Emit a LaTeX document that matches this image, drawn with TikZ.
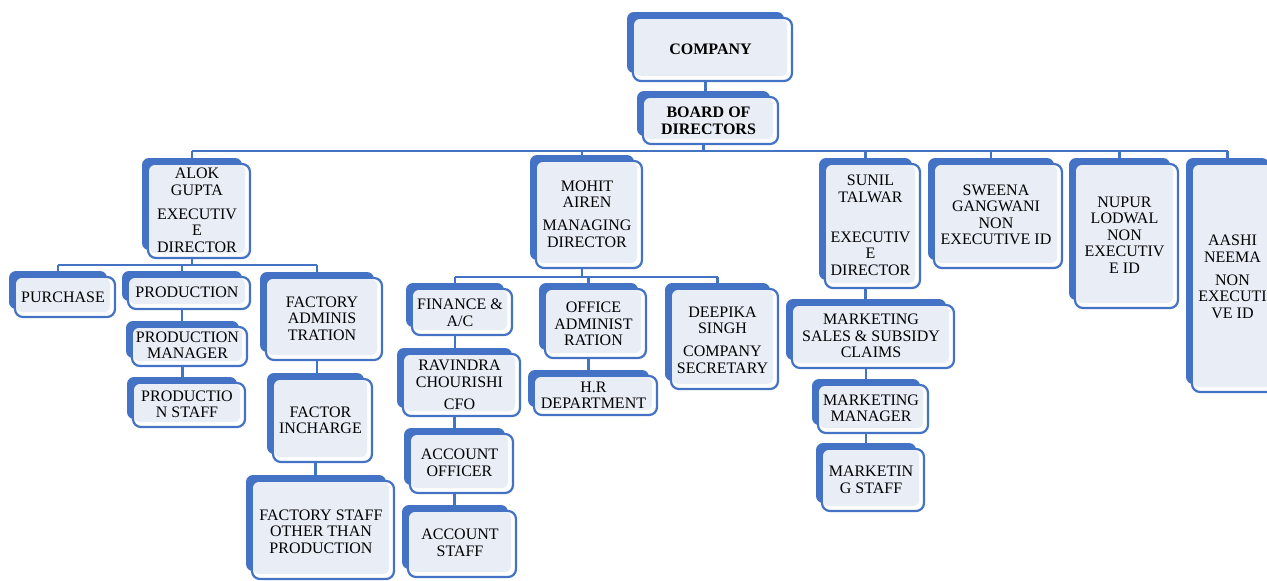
\documentclass[tikz,border=0pt]{standalone}
\usepackage{fontspec}
\setmainfont{Liberation Serif}
\usetikzlibrary{backgrounds}
\definecolor{ob}{RGB}{68,114,196}
\definecolor{lf}{RGB}{232,237,246}
\tikzset{
 backbox/.style={fill=ob, rounded corners=7pt, inner sep=0pt, outer sep=0pt},
 frontbox/.style={draw=ob, fill=white, line width=2.2pt, rounded corners=8pt, inner sep=0pt, outer sep=0pt},
 lightfill/.style={fill=lf, rounded corners=6pt},
 txt/.style={align=center, inner sep=0pt, font=\fontsize{16}{16.5}\selectfont},
 btxt/.style={align=center, inner sep=0pt, font=\fontsize{16}{16.8}\selectfont\bfseries},
 conn/.style={draw=ob, line width=2.2pt},
}
\newcommand\obox[8]{%
 \node[backbox, minimum width={(#4)-(#2)-2}, minimum height={(#5)-(#3)-2}] (#1) at ({((#2)+(#4))/2-7},{((#3)+(#5))/2-7}) {};
 \node[frontbox, minimum width={(#4)-(#2)}, minimum height={(#5)-(#3)}] (#1f) at ({((#2)+(#4))/2},{((#3)+(#5))/2}) {};
 \fill[lightfill] ({(#2)+1},{(#3)+1}) rectangle ({(#4)-5},{(#5)-5});
 \node[#7] (#1t) at ({((#2)+(#4))/2-2},{(#6)+1.5}) {#8};
}
\begin{document}
\begin{tikzpicture}[x=1pt,y=-1pt]
\useasboundingbox (0,0) rectangle (1267,581);
\clip (0,0) rectangle (1267,581);
\obox{company}{633}{18}{792}{81}{48}{btxt}{COMPANY}
\obox{board}{643}{97}{778}{144}{119.5}{btxt}{BOARD OF\\DIRECTORS}
\obox{alok}{148}{164}{250}{258}{209}{txt}{ALOK\\GUPTA\\[7.5pt]EXECUTIV\\E\\DIRECTOR}
\obox{purchase}{15}{277}{115}{317}{296}{txt}{PURCHASE}
\obox{production}{128}{277}{250}{309}{291}{txt}{PRODUCTION}
\obox{prodmgr}{132}{327}{247}{366}{344}{txt}{PRODUCTION\\MANAGER}
\obox{prodstaff}{133}{383}{245}{427}{403}{txt}{PRODUCTIO\\N STAFF}
\obox{factadm}{266}{278}{382}{360}{317}{txt}{FACTORY\\ADMINIS\\TRATION}
\obox{factinch}{273}{379}{372}{462}{419}{txt}{FACTOR\\INCHARGE}
\obox{factstaff}{252}{481}{394}{579}{530}{txt}{FACTORY STAFF\\OTHER THAN\\PRODUCTION}
\obox{mohit}{536}{161}{642}{268}{212.5}{txt}{MOHIT\\AIREN\\[6.5pt]MANAGING\\DIRECTOR}
\obox{finance}{412}{289}{512}{335}{311.5}{txt}{FINANCE \&\\A/C}
\obox{ravindra}{403}{354}{520}{416}{383.5}{txt}{RAVINDRA\\CHOURISHI\\[5.5pt]CFO}
\obox{acctoff}{410}{434}{513}{493}{461.5}{txt}{ACCOUNT\\OFFICER}
\obox{acctstaff}{408}{511}{516}{577}{541.5}{txt}{ACCOUNT\\STAFF}
\obox{offadm}{545}{289}{646}{358}{322.5}{txt}{OFFICE\\ADMINIST\\RATION}
\obox{hr}{534}{376}{657}{415}{394}{txt}{H.R\\DEPARTMENT}
\obox{deepika}{671}{289}{778}{389}{338.5}{txt}{DEEPIKA\\SINGH\\[6.5pt]COMPANY\\SECRETARY}
\obox{sunil}{825}{164}{920}{288}{224}{txt}{SUNIL\\TALWAR\\[23.5pt]EXECUTIV\\E\\DIRECTOR}
\obox{mktsales}{792}{305}{954}{368}{334.5}{txt}{MARKETING\\SALES \& SUBSIDY\\CLAIMS}
\obox{mktmgr}{818}{385}{928}{433}{407}{txt}{MARKETING\\MANAGER}
\obox{mktstaff}{822}{449}{924}{511}{478.5}{txt}{MARKETIN\\G STAFF}
\obox{sweena}{934}{164}{1062}{268}{213.5}{txt}{SWEENA\\GANGWANI\\NON\\EXECUTIVE ID}
\obox{nupur}{1075}{164}{1178}{308}{233.5}{txt}{NUPUR\\LODWAL\\NON\\EXECUTIV\\E ID}
\obox{aashi}{1192}{164}{1277}{392}{275.5}{txt}{AASHI\\NEEMA\\[6.5pt]NON\\EXECUTI\\VE ID}
\coordinate (busM) at (0,151);
\coordinate (busA) at (0,265);
\coordinate (busB) at (0,277);
\begin{scope}[on background layer]
\draw[conn] (company.south) -- (company.south |- board.north);
\draw[conn] (board.south) -- (board.south |- busM);
\draw[conn] (alok.north |- busM) -- (aashi.north |- busM);
\foreach \n in {alok,mohit,sunil,sweena,nupur,aashi} \draw[conn] (\n.north |- busM) -- (\n.north);
\draw[conn] (alok.south) -- (alok.south |- busA);
\draw[conn] (purchase.north |- busA) -- (factadm.north |- busA);
\foreach \n in {purchase,production,factadm} \draw[conn] (\n.north |- busA) -- (\n.north);
\draw[conn] (production.south) -- (production.south |- prodmgr.north);
\draw[conn] (prodmgr.south) -- (prodmgr.south |- prodstaff.north);
\draw[conn] (factadm.south) -- (factadm.south |- factinch.north);
\draw[conn] (factinch.south) -- (factinch.south |- factstaff.north);
\draw[conn] (mohit.south) -- (mohit.south |- busB);
\draw[conn] (finance.north |- busB) -- (deepika.north |- busB);
\foreach \n in {finance,offadm,deepika} \draw[conn] (\n.north |- busB) -- (\n.north);
\draw[conn] (finance.south) -- (finance.south |- ravindra.north);
\draw[conn] (ravindra.south) -- (ravindra.south |- acctoff.north);
\draw[conn] (acctoff.south) -- (acctoff.south |- acctstaff.north);
\draw[conn] (offadm.south) -- (offadm.south |- hr.north);
\draw[conn] (sunil.south) -- (sunil.south |- mktsales.north);
\draw[conn] (mktsales.south) -- (mktsales.south |- mktmgr.north);
\draw[conn] (mktmgr.south) -- (mktmgr.south |- mktstaff.north);
\end{scope}
\end{tikzpicture}
\end{document}
